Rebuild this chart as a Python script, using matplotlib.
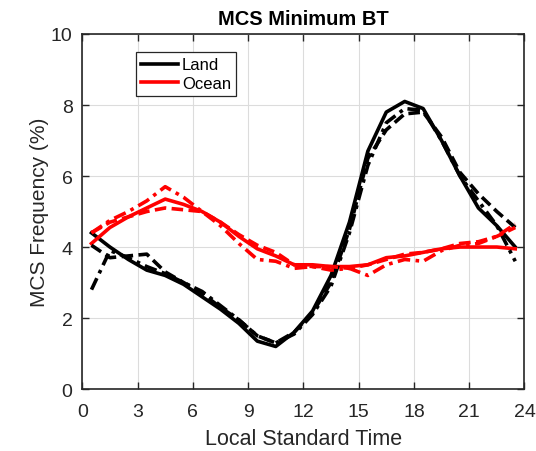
import matplotlib
matplotlib.use("Agg")
import matplotlib.pyplot as plt
import numpy as np

plt.rcParams['font.family'] = ['Liberation Sans', 'DejaVu Sans']

hours = np.arange(0.5, 24, 1.0)

land_solid = [4.4, 4.0, 3.65, 3.35, 3.2, 2.95, 2.6, 2.25, 1.85, 1.35, 1.2, 1.6,
              2.2, 3.2, 4.7, 6.7, 7.8, 8.1, 7.9, 7.0, 6.0, 5.1, 4.6, 4.0]
land_dashed = [4.05, 3.7, 3.75, 3.8, 3.3, 3.0, 2.7, 2.3, 1.95, 1.5, 1.3, 1.6,
               2.15, 3.0, 4.5, 6.5, 7.3, 7.75, 7.8, 7.1, 6.1, 5.5, 5.0, 4.55]
land_dashdot = [2.8, 3.9, 3.7, 3.45, 3.25, 3.0, 2.75, 2.35, 1.95, 1.5, 1.3, 1.55,
                2.1, 2.9, 4.4, 6.3, 7.5, 7.9, 7.85, 7.0, 6.0, 5.3, 4.6, 3.6]

ocean_solid = [4.1, 4.55, 4.85, 5.1, 5.35, 5.2, 5.0, 4.7, 4.3, 3.95, 3.75, 3.5,
               3.5, 3.45, 3.45, 3.5, 3.7, 3.75, 3.85, 3.95, 4.0, 4.0, 4.0, 3.95]
ocean_dashed = [4.4, 4.7, 4.85, 5.0, 5.1, 5.05, 5.0, 4.7, 4.35, 4.05, 3.85, 3.5,
                3.45, 3.45, 3.4, 3.5, 3.65, 3.8, 3.85, 3.95, 4.1, 4.15, 4.3, 4.55]
ocean_dashdot = [4.4, 4.75, 5.0, 5.3, 5.7, 5.4, 5.0, 4.6, 4.1, 3.65, 3.6, 3.4,
                 3.45, 3.35, 3.4, 3.2, 3.5, 3.65, 3.6, 3.9, 4.05, 4.1, 4.3, 4.65]

xticks = [0, 3, 6, 9, 12, 15, 18, 21, 24]
yticks = [0, 2, 4, 6, 8, 10]

txt = '#262626'
fig = plt.figure(figsize=(5.36, 4.52), dpi=100)
ax = fig.add_axes([0.1535, 0.137, 0.825, 0.7856])

lw = 2.6
ax.plot(hours, land_solid, color='black', lw=lw, ls='-', label='Land')
ax.plot(hours, ocean_solid, color='red', lw=lw, ls='-', label='Ocean')
ax.plot(hours, land_dashed, color='black', lw=lw, ls=(0, (3.2, 1.5)))
ax.plot(hours, land_dashdot, color='black', lw=lw, ls=(0, (3.5, 1.5, 1, 1.5)))
ax.plot(hours, ocean_dashed, color='red', lw=lw, ls=(0, (3.2, 1.5)))
ax.plot(hours, ocean_dashdot, color='red', lw=lw, ls=(0, (3.5, 1.5, 1, 1.5)))

ax.set_xlim(0, 24)
ax.set_ylim(0, 10)
ax.set_xticks(xticks)
ax.set_yticks(yticks)
ax.grid(True, color='#dcdcdc', lw=0.8)
ax.set_axisbelow(True)
ax.tick_params(direction='in', top=True, right=True, labelsize=14, length=5,
               width=1, colors=txt)
ax.tick_params(axis='x', pad=10)
ax.tick_params(axis='y', pad=7)
for s in ax.spines.values():
    s.set_linewidth(1.2)
    s.set_color(txt)

ax.set_title('MCS Minimum BT', fontsize=14.5, fontweight='bold', pad=7, color='black')
ax.set_xlabel('Local Standard Time', fontsize=15.5, color=txt, labelpad=6)
ax.set_ylabel('MCS Frequency (%)', fontsize=15, color=txt, labelpad=1)

leg = ax.legend(loc='upper left', bbox_to_anchor=(0.122, 0.948), fontsize=12,
                frameon=True, fancybox=False, edgecolor=txt, framealpha=1,
                handlelength=2.2, handletextpad=0.25, borderpad=0.3, labelspacing=0.2,
                borderaxespad=0)
leg.get_frame().set_linewidth(0.9)

fig.savefig('out.png', dpi=100)
